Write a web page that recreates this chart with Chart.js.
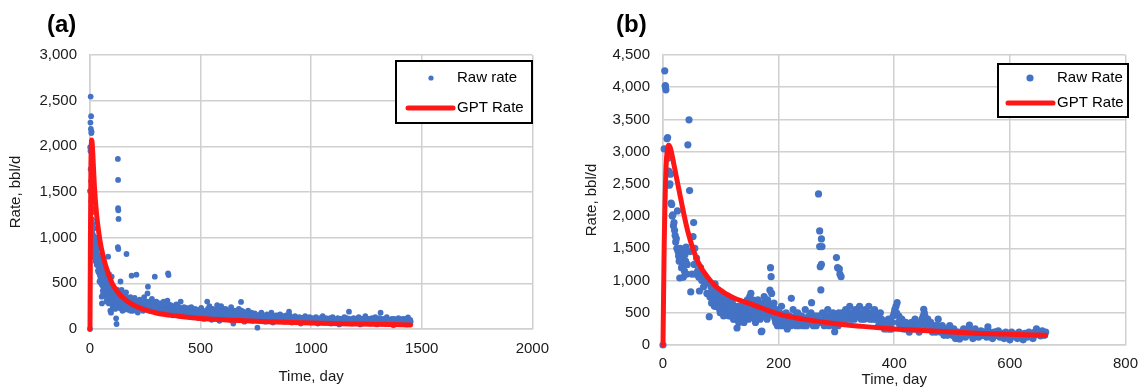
<!DOCTYPE html>
<html lang="en">
<head>
<meta charset="UTF-8" />
<title>Raw rate vs GPT rate</title>
<script src="https://cdn.jsdelivr.net/npm/chart.js"></script>
<style>
  body {
    margin: 0;
    background: #fff;
    width: 1148px;
    height: 389px;
    position: relative;
    overflow: hidden;
    font-family: "Liberation Sans", Arial, sans-serif;
  }
  .panel { position: absolute; top: 0; height: 389px; }
  #wrapA { left: 0; width: 560px; }
  #wrapB { left: 570px; width: 578px; }
  .tag {
    position: absolute;
    top: 10px;
    font-weight: bold;
    font-size: 24px;
    color: #000;
  }
</style>
</head>
<body>
<div class="panel" id="wrapA"><canvas id="chartA" width="560" height="389"></canvas></div>
<div class="panel" id="wrapB"><canvas id="chartB" width="578" height="389"></canvas></div>
<div class="tag" style="left:47px">(a)</div>
<div class="tag" style="left:616px">(b)</div>

<script>
// ---- data (a) ----
const xTicksA = [0, 500, 1000, 1500, 2000];
const yTicksA = [0, 500, 1000, 1500, 2000, 2500, 3000];

// [day, bbl/d]
const rawA = [
  [0,0],[0,1510],[1,1990],[2,2260],[3,2545],[4,2190],[5,2330],[6,2145],[7,2160],[2,1950],
  [3,1750],[5,1620],[6,1400],[8,1320],[9,1200],[10,1150],[11,1050],[12,1280],[13,980],[14,1100],
  [15,900],[16,1020],[18,870],[19,960],[20,830],[22,780],[24,975],[25,880],[26,740],[28,820],
  [30,865],[31,700],[33,780],[35,760],[36,640],[38,700],[40,800],[42,680],[44,600],[45,646],
  [47,720],[48,550],[50,500],[52,756],[53,354],[54,280],[55,480],[56,620],[58,420],[60,560],
  [62,450],[64,700],[66,380],[68,520],[70,600],[72,460],[74,300],[76,410],[78,540],[80,470],
  [82,792],[84,350],[86,600],[88,420],[90,380],[92,200],[94,330],[95,179],[97,480],[98,573],
  [100,400],[102,290],[104,340],[106,450],[108,260],[110,380],[112,320],[114,220],[116,300],[118,117],
  [120,55],[121,430],[122,250],[124,350],[126,1862],[127,1632],[127,1322],[128,1300],[129,1205],[126,895],
  [128,875],[130,280],[132,400],[134,230],[136,330],[138,520],[140,260],[143,427],[145,300],[147,200],
  [150,370],[152,250],[155,340],[158,220],[160,300],[163,400],[165,821],[168,270],[170,330],[173,210],
  [176,290],[180,250],[183,350],[186,230],[188,584],[190,300],[194,200],[198,270],[202,340],[206,230],
  [210,595],[212,290],[216,180],[220,260],[225,320],[230,230],[235,280],[240,200],[245,350],[250,250],
  [255,300],[260,390],[262,463],[265,220],[270,280],[275,240],[280,330],[285,200],[290,270],[293,573],
  [296,230],[300,300],[305,190],[310,260],[315,220],[320,280],[325,180],[330,240],[335,270],[340,200],
  [345,250],[350,310],[353,610],[355,590],[358,230],[360,180],[365,260],[370,220],[375,150],[380,240],
  [385,200],[390,270],[395,180],[400,220],[405,160],[410,300],[415,200],[420,170],[425,240],[430,190],
  [435,140],[440,210],[445,170],[450,230],[455,150],[460,200],[465,130],[470,180],[475,220],[480,150],
  [485,190],[490,120],[495,170],[500,210],[505,140],[510,180],[515,110],[520,160],[525,200],[530,300],
  [535,130],[540,250],[545,170],[550,100],[555,220],[560,150],[565,190],[570,120],[575,260],[580,160],
  [585,90],[590,200],[593,250],[598,140],[603,180],[608,110],[613,220],[618,160],[623,130],[628,190],
  [633,100],[638,240],[643,150],[648,60],[653,200],[658,130],[663,170],[668,110],[673,220],[678,150],
  [683,296],[688,120],[693,190],[698,80],[703,160],[710,130],[715,200],[720,100],[725,150],[730,180],
  [735,90],[740,140],[745,170],[750,110],[757,15],[762,150],[768,90],[775,180],[780,120],[787,140],
  [793,80],[800,160],[807,110],[813,130],[820,180],[827,70],[833,120],[840,150],[847,90],[853,130],
  [860,160],[867,100],[873,120],[880,80],[887,150],[893,110],[900,190],[907,130],[913,70],[920,120],
  [927,140],[933,90],[940,110],[947,130],[953,60],[960,120],[967,100],[973,140],[980,80],[987,110],
  [993,130],[1000,70],[1008,120],[1015,90],[1022,130],[1030,60],[1037,110],[1045,100],[1052,140],[1060,70],
  [1067,120],[1075,90],[1082,110],[1090,60],[1097,130],[1105,100],[1112,80],[1120,120],[1127,50],[1135,110],
  [1142,90],[1150,130],[1157,70],[1165,110],[1171,190],[1178,90],[1185,60],[1192,120],[1200,100],[1207,80],
  [1215,130],[1222,50],[1230,110],[1237,90],[1245,140],[1252,70],[1260,110],[1267,60],[1275,120],[1282,90],
  [1290,130],[1297,50],[1305,100],[1314,179],[1320,80],[1327,110],[1335,60],[1342,130],[1350,90],[1357,70],
  [1365,110],[1372,40],[1380,100],[1387,80],[1395,120],[1402,60],[1410,100],[1417,70],[1425,110],[1432,50],
  [1438,128],[1442,90],[1446,60],[1450,80],
  // denser core of the cloud
  [11,1300],[13,1150],[17,1100],[21,950],[23,1000],[27,900],[29,760],[32,920],[34,820],[37,880],
  [39,620],[41,740],[43,520],[46,580],[49,680],[51,610],[57,700],[59,380],[61,650],[63,480],
  [65,570],[67,430],[69,360],[71,520],[73,640],[75,450],[77,330],[79,560],[81,400],[83,500],
  [85,280],[87,460],[89,350],[91,520],[93,420],[96,280],[99,360],[101,450],[103,240],[105,380],
  [107,310],[109,420],[111,250],[113,370],[115,280],[117,340],[119,260],[123,300],[125,400],[131,330],
  [133,270],[135,420],[137,250],[139,350],[141,300],[144,220],[146,380],[148,280],[151,320],[153,210],
  [156,280],[159,330],[161,240],[164,300],[166,350],[169,230],[171,280],[174,320],[177,250],[181,300],
  [184,200],[187,280],[191,330],[195,250],[199,300],[204,270],[208,310],[214,240],[218,300],[222,210],
  [227,270],[232,300],[237,240],[242,290],[247,220],[252,280],[257,230],[263,300],[268,250],[273,200],
  [278,260],[283,300],[288,230],[294,250],[298,210],[303,260],[308,230],[313,280],[318,200],[323,250],
  [328,220],[333,300],[338,240],[343,190],[348,260],[356,270],[362,220],[367,190],[372,250],[378,200],
  [383,230],[388,170],[393,220],[398,250],[403,190],[408,230],[413,170],[418,220],[423,200],[428,150],
  [433,230],[438,180],[443,200],[448,160],[453,190],[458,240],[463,170],[468,200],[473,140],[478,190],
  [483,160],[488,210],[493,150],[498,180],[503,230],[508,160],[513,190],[518,140],[523,180],[528,150],
  [533,220],[538,170],[543,200],[548,140],[553,180],[558,120],[563,210],[568,170],[573,140],[578,200],
  [583,150],[588,180],[595,120],[600,220],[605,150],[610,190],[615,130],[620,200],[625,150],[630,170],
  [635,120],[640,190],[645,160],[650,130],[655,180],[660,150],[665,200],[670,140],[675,170],[680,120],
  [685,200],[690,150],[695,170],[700,130],[706,180],[712,150],[718,120],[722,170],[728,130],[732,150],
  [738,110],[742,160],[748,130],[753,150],[760,110],[765,130],[770,160],[778,100],[783,150],[790,120],
  [797,140],[803,100],[810,150],[817,120],[823,140],[830,100],[837,130],[843,110],[850,150],[857,120],
  [863,130],[870,100],[877,140],[883,110],[890,130],[897,120],[903,150],[910,100],[917,120],[923,90],
  [930,130],[937,110],[943,100],[950,120],[957,90],[963,120],[970,110],[977,90],[983,120],[990,100],
  [997,110],[1004,90],[1011,110],[1018,80],[1026,110],[1033,90],[1041,120],[1048,80],[1056,110],[1063,90],
  [1071,100],[1078,80],[1086,120],[1093,90],[1101,110],[1108,70],[1116,100],[1123,90],[1131,110],[1138,70],
  [1146,100],[1153,90],[1161,120],[1168,80],[1175,110],[1182,90],[1189,100],[1196,70],[1204,110],[1211,90],
  [1219,100],[1226,80],[1234,110],[1241,70],[1249,100],[1256,90],[1264,110],[1271,80],[1279,100],[1286,70],
  [1294,110],[1301,90],[1309,120],[1317,80],[1324,100],[1331,90],[1339,110],[1346,70],[1354,100],[1361,90],
  [1369,80],[1376,110],[1384,70],[1391,100],[1399,90],[1406,80],[1414,110],[1421,90],[1428,70],[1435,100],
  [1448,100]
];

const gptTimeA = [0, 1, 2, 4, 6, 8, 12, 16, 20, 30, 40, 50, 70, 100, 130, 170, 220, 300, 400, 500, 650, 800, 1000, 1200, 1450];
const gptRateA = [0, 500, 1000, 1750, 2020, 2070, 1950, 1750, 1560, 1250, 1050, 900, 700, 500, 390, 300, 235, 175, 140, 115, 95, 80, 65, 55, 45];

// ---- data (b) ----
const xTicksB = [0, 200, 400, 600, 800];
const yTicksB = [0, 500, 1000, 1500, 2000, 2500, 3000, 3500, 4000, 4500];

const rawB = [
  [0,0],[2,3043],[3,4255],[4,4027],[5,3960],[4,4010],[8,3220],[7,3200],[9,2900],[10,2700],
  [11,2480],[12,2500],[13,2650],[14,2200],[15,2180],[16,2000],[17,2020],[18,1850],[19,1900],[20,1780],
  [21,1700],[22,1600],[23,1650],[24,1500],[25,2080],[26,1450],[27,1380],[28,1300],[29,1040],[30,1500],
  [31,1350],[32,1200],[33,1450],[34,1250],[35,1050],[36,1480],[37,1150],[38,1400],[39,1300],[40,1520],
  [41,1100],[42,1250],[43,3106],[45,3494],[46,2396],[47,1450],[48,823],[50,1100],[52,1682],[53,1900],
  [54,1250],[55,1500],[56,1100],[58,1350],[60,1150],[62,1050],[63,838],[65,1200],[67,1000],[69,1100],
  [70,900],[72,1050],[74,950],[76,800],[78,1000],[80,440],[81,750],[83,900],[85,700],[87,850],
  [89,600],[90,950],[92,750],[94,650],[96,800],[98,550],[100,700],[102,600],[104,500],[106,750],
  [108,650],[110,550],[112,700],[114,450],[116,600],[118,500],[120,650],[122,400],[124,550],[126,450],
  [128,264],[130,600],[132,500],[134,400],[136,550],[138,450],[140,350],[142,600],[144,500],[146,700],
  [148,400],[150,750],[152,803],[154,550],[156,450],[158,650],[160,350],[162,500],[164,700],[166,600],
  [168,400],[170,206],[171,217],[173,500],[175,750],[177,650],[179,450],[181,700],[183,550],[185,850],
  [186,1200],[187,1060],[188,800],[190,500],[192,650],[194,400],[196,550],[198,300],[200,450],[203,350],
  [205,600],[208,400],[210,300],[213,500],[215,250],[218,450],[220,350],[222,725],[225,550],[228,400],
  [230,300],[233,500],[236,350],[240,450],[243,300],[246,550],[250,400],[253,350],[256,500],[257,657],
  [260,300],[263,450],[266,400],[269,2345],[271,1770],[274,1646],[271,1527],[275,1527],[272,1216],[274,1250],
  [273,854],[270,350],[276,500],[279,300],[282,450],[285,550],[288,400],[291,350],[294,500],[297,207],
  [300,1356],[302,1200],[305,1180],[308,1060],[306,1100],[300,450],[303,300],[306,400],[310,500],[313,350],
  [316,550],[320,450],[323,600],[326,400],[330,500],[333,550],[336,450],[340,600],[343,400],[346,500],
  [350,550],[353,450],[356,600],[360,500],[363,400],[366,550],[370,450],[373,300],[376,500],[380,350],
  [383,250],[386,300],[390,400],[393,250],[396,350],[400,500],[403,600],[405,657],[408,450],[410,300],
  [413,400],[416,250],[420,350],[423,300],[426,200],[430,350],[433,280],[436,400],[440,300],[443,200],
  [446,350],[450,450],[451,554],[452,500],[455,300],[458,400],[460,250],[463,350],[466,200],[470,300],
  [473,250],[476,400],[480,200],[483,300],[486,150],[490,250],[493,200],[496,300],[500,150],[503,250],
  [506,100],[510,200],[513,93],[516,150],[520,250],[523,120],[526,200],[530,310],[533,150],[536,100],
  [540,250],[543,180],[546,120],[550,220],[553,150],[556,200],[560,120],[562,280],[566,180],[570,100],
  [573,200],[576,150],[580,220],[583,120],[586,180],[590,100],[593,200],[596,150],[600,80],[603,200],
  [606,130],[610,170],[613,100],[616,200],[620,140],[623,80],[626,180],[630,120],[633,200],[636,150],
  [640,100],[643,200],[646,250],[650,180],[653,140],[656,220],[660,150],[662,200],
  // denser core of the cloud
  [82,800],[84,650],[86,900],[88,700],[91,600],[93,850],[95,700],[97,600],[99,500],[101,800],
  [103,650],[105,450],[107,600],[109,700],[111,500],[113,600],[115,550],[117,450],[119,700],[121,500],
  [123,600],[125,400],[127,550],[129,450],[131,350],[133,600],[135,450],[137,500],[139,400],[141,550],
  [143,450],[145,600],[147,500],[149,650],[151,550],[153,450],[155,700],[157,500],[159,400],[161,600],
  [163,450],[165,550],[167,500],[169,650],[172,550],[174,450],[176,600],[178,550],[180,400],[182,650],
  [184,500],[189,600],[191,450],[193,550],[195,350],[197,450],[199,400],[202,500],[204,300],[207,450],
  [209,350],[212,400],[214,300],[217,350],[219,450],[221,300],[224,400],[227,350],[229,450],[232,400],
  [235,300],[238,400],[242,350],[245,400],[248,300],[252,450],[255,400],[258,350],[262,400],[265,300],
  [268,450],[278,400],[281,350],[284,400],[287,300],[290,450],[293,400],[296,300],[299,400],[304,500],
  [308,450],[311,400],[315,450],[318,500],[321,400],[325,500],[328,450],[331,400],[335,500],[338,450],
  [341,500],[345,450],[348,400],[351,500],[355,450],[358,400],[361,450],[365,500],[368,400],[371,400],
  [375,350],[378,400],[381,300],[385,350],[388,250],[392,300],[395,250],[398,450],[401,550],[404,500],
  [407,350],[411,400],[415,300],[418,350],[421,250],[425,300],[428,250],[431,300],[435,250],[438,300],
  [441,250],[444,300],[448,400],[453,450],[457,350],[461,300],[465,300],[468,250],[472,200],[475,300],
  [478,250],[481,250],[485,200],[488,200],[492,150],[495,250],[498,200],[502,200],[505,150],[508,200],
  [512,150],[515,200],[518,150],[522,200],[525,150],[528,250],[532,200],[535,200],[538,150],[542,200],
  [545,150],[548,200],[552,180],[555,150],[558,200],[562,150],[565,200],[568,150],[572,150],[575,200],
  [578,150],[582,180],[585,150],[588,150],[592,150],[595,130],[598,170],[602,150],[605,170],[608,130],
  [612,150],[615,130],[618,170],[622,140],[625,150],[628,150],[632,150],[635,130],[638,170],[642,150],
  [645,180],[648,170],[652,180],[655,170],[658,160]
];

const gptTimeB = [0, 2, 5, 8, 10, 13, 20, 30, 43, 60, 80, 95, 120, 157, 200, 250, 300, 350, 400, 450, 500, 550, 600, 662];
const gptRateB = [0, 1500, 2700, 3050, 3100, 3050, 2750, 2300, 1760, 1300, 1020, 880, 740, 620, 480, 390, 330, 285, 250, 225, 200, 180, 165, 150];

// ---- drawing ----
const FONT = '"Liberation Sans", Arial, sans-serif';
const BLUE = '#4472C4';
const RED = '#FF1717';
const GRID = '#d0d0d0';
const TEXT = '#1a1a1a';

// boxed legend like the original (white box, black frame)
const boxLegend = {
  id: 'boxLegend',
  afterDraw(chart, args, o) {
    const ctx = chart.ctx;
    const ds = chart.data.datasets;
    ctx.save();
    ctx.fillStyle = '#fff';
    ctx.fillRect(o.x, o.y, o.w, o.h);
    ctx.lineWidth = 2;
    ctx.strokeStyle = '#000';
    ctx.strokeRect(o.x, o.y, o.w, o.h);

    ctx.fillStyle = BLUE;
    ctx.beginPath();
    ctx.arc(o.markX, o.row1, o.markR, 0, Math.PI * 2);
    ctx.fill();

    ctx.strokeStyle = RED;
    ctx.lineWidth = 5;
    ctx.lineCap = 'round';
    ctx.beginPath();
    ctx.moveTo(o.lineX0, o.row2);
    ctx.lineTo(o.lineX1, o.row2);
    ctx.stroke();

    ctx.fillStyle = '#000';
    ctx.font = '15px ' + FONT;
    ctx.textBaseline = 'middle';
    ctx.fillText(ds[0].label, o.textX, o.row1);
    ctx.fillText(ds[1].label, o.textX, o.row2);
    ctx.restore();
  }
};

function makeChart(id, cfg) {
  const gptPts = cfg.gptTime.map((t, i) => ({ x: t, y: cfg.gptRate[i] }));
  const rawPts = cfg.raw.map(p => ({ x: p[0], y: p[1] }));
  return new Chart(document.getElementById(id), {
    type: 'scatter',
    data: {
      datasets: [
        {
          label: cfg.rawLabel,
          data: rawPts,
          backgroundColor: BLUE,
          borderWidth: 0,
          pointRadius: cfg.pointR,
          pointHoverRadius: cfg.pointR,
          order: 2,
          clip: false
        },
        {
          label: 'GPT Rate',
          data: gptPts,
          showLine: true,
          borderColor: RED,
          borderWidth: 5,
          borderCapStyle: 'round',
          borderJoinStyle: 'round',
          cubicInterpolationMode: 'monotone',
          pointRadius: 0,
          order: 1,
          clip: false
        }
      ]
    },
    options: {
      responsive: false,
      animation: false,
      layout: { padding: { top: cfg.padTop, right: cfg.padRight, left: 0, bottom: 0 } },
      plugins: {
        legend: { display: false },
        tooltip: { enabled: false },
        boxLegend: cfg.legend
      },
      scales: {
        x: {
          type: 'linear',
          min: cfg.xTicks[0],
          max: cfg.xTicks[cfg.xTicks.length - 1],
          afterBuildTicks: s => { s.ticks = cfg.xTicks.map(v => ({ value: v })); },
          afterFit: s => { s.height = cfg.xAxisH; },
          grid: { color: GRID, lineWidth: 1.5, drawTicks: false },
          border: { color: GRID, width: 1.5 },
          ticks: {
            color: TEXT,
            padding: cfg.xTickPad,
            font: { family: FONT, size: 15 },
            callback: v => String(v)
          },
          title: {
            display: true,
            text: 'Time, day',
            color: TEXT,
            font: { family: FONT, size: 15 },
            padding: { top: 0, bottom: cfg.xTitlePad }
          }
        },
        y: {
          min: cfg.yTicks[0],
          max: cfg.yTicks[cfg.yTicks.length - 1],
          afterBuildTicks: s => { s.ticks = cfg.yTicks.map(v => ({ value: v })); },
          afterFit: s => { s.width = cfg.yAxisW; },
          grid: { color: GRID, lineWidth: 1.5, drawTicks: false },
          border: { color: GRID, width: 1.5 },
          ticks: {
            color: TEXT,
            padding: 13,
            font: { family: FONT, size: 15 },
            callback: v => v.toLocaleString('en-US')
          },
          title: {
            display: true,
            text: 'Rate, bbl/d',
            color: TEXT,
            font: { family: FONT, size: 15 },
            padding: { top: cfg.yTitlePad, bottom: 0 }
          }
        }
      }
    },
    plugins: [boxLegend]
  });
}

makeChart('chartA', {
  raw: rawA, rawLabel: 'Raw rate', gptTime: gptTimeA, gptRate: gptRateA,
  xTicks: xTicksA, yTicks: yTicksA, pointR: 2.9,
  padTop: 55, padRight: 27, yAxisW: 90, xAxisH: 60, xTickPad: 11, xTitlePad: 3, yTitlePad: 7,
  legend: { x: 396, y: 61, w: 136, h: 62, markX: 431, markR: 2.6, row1: 78, row2: 108, lineX0: 408, lineX1: 453, textX: 457 }
});

makeChart('chartB', {
  raw: rawB, rawLabel: 'Raw Rate', gptTime: gptTimeB, gptRate: gptRateB,
  xTicks: xTicksB, yTicks: yTicksB, pointR: 3.6,
  padTop: 55, padRight: 18, yAxisW: 93, xAxisH: 44, xTickPad: 10, xTitlePad: 0, yTitlePad: 13,
  legend: { x: 428, y: 64, w: 130, h: 53, markX: 460, markR: 3.6, row1: 78, row2: 103, lineX0: 438, lineX1: 483, textX: 487 }
});
</script>
</body>
</html>
